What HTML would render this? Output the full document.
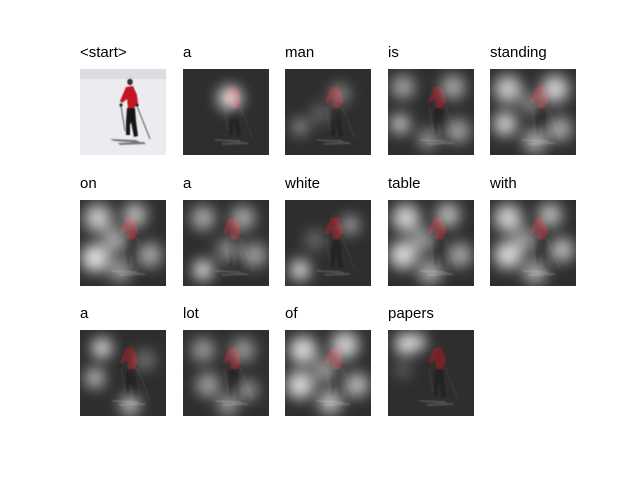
<!DOCTYPE html>
<html><head><meta charset="utf-8"><style>
body{margin:0;background:#fff;}
svg{display:block;font-family:"Liberation Sans","DejaVu Sans",sans-serif;}
</style></head><body>
<svg id="fig" width="640" height="480" viewBox="0 0 640 480" xmlns="http://www.w3.org/2000/svg">
<defs>
<filter id="blur" filterUnits="userSpaceOnUse" x="-30" y="-30" width="146" height="146"><feGaussianBlur stdDeviation="7"/></filter>
<filter id="sblur" filterUnits="userSpaceOnUse" x="-5" y="-5" width="96" height="96"><feGaussianBlur stdDeviation="0.5"/></filter>
<filter id="sharpblur" filterUnits="userSpaceOnUse" x="-30" y="-30" width="146" height="146"><feGaussianBlur stdDeviation="3.5"/></filter>
<g id="skier" filter="url(#sblur)">
<line x1="41" y1="37" x2="45" y2="62" stroke="#555" stroke-width="1"/>
<line x1="57" y1="37" x2="70" y2="70" stroke="#555" stroke-width="1"/>
<ellipse cx="50" cy="13" rx="2.8" ry="3.2" fill="#333"/>
<path d="M46 18 L53 17 L57 26 L58 34 L54 39 L48 39 L47 30 L42 34 L40 32 Z" fill="#c41820"/>
<circle cx="41" cy="36" r="1.6" fill="#222"/>
<circle cx="57" cy="36" r="1.6" fill="#222"/>
<path d="M47 39 L55 39 L56 52 L58 67 L54 68 L51 53 L50 56 L50 66 L46 66 L46 53 Z" fill="#151515"/>
<path d="M30 70 L56 71 L62 74 L34 72 Z" fill="#777"/>
<path d="M38 74 L64 73 L66 75 L40 76 Z" fill="#777"/>
</g>
</defs>
<g id="panels"></g>
</svg>
<script>
const words=["<start>","a","man","is","standing","on","a","white","table","with","a","lot","of","papers"];
// attention blobs per word: [x, y, radius, opacity] in 0-86 image coords
const blobs=[
 [],
 [[47,29,12,1],[48,30,8,1]],
 [[55,25,10,0.5],[15,58,8,0.6],[35,45,10,0.3]],
 [[15,18,12,0.65],[12,55,10,0.85],[65,18,12,0.7],[70,62,12,0.65],[40,70,10,0.6]],
 [[18,20,14,0.85],[15,55,12,0.9],[65,20,14,0.9],[70,60,12,0.7],[45,72,12,0.7],[40,35,10,0.5]],
 [[18,18,14,0.85],[15,58,14,1],[55,15,12,0.8],[70,55,12,0.7],[40,70,12,0.6],[35,40,12,0.7]],
 [[20,18,12,0.7],[20,70,10,1],[60,18,12,0.7],[72,55,12,0.65],[45,50,12,0.5]],
 [[15,70,10,1],[65,25,9,0.7],[30,40,10,0.35]],
 [[18,18,14,0.9],[15,55,14,0.95],[60,15,12,0.8],[72,55,12,0.7],[42,72,12,0.7],[35,40,12,0.6]],
 [[18,18,14,0.9],[18,55,14,0.95],[60,15,12,0.8],[72,50,12,0.8],[45,72,12,0.7],[35,40,12,0.6]],
 [[22,18,10,1],[15,48,10,0.8],[50,75,10,0.8],[65,30,10,0.4]],
 [[20,20,12,0.6],[25,55,12,0.65],[60,20,12,0.6],[65,60,10,0.6],[45,75,10,0.65]],
 [[18,20,14,0.95],[15,55,14,0.95],[60,15,14,0.9],[72,55,12,0.8],[45,72,12,0.8],[40,40,12,0.6]],
 [[18,14,11,1],[30,12,8,1],[15,40,8,0.3]]
];
const colX=[80,183,285,388,490], rowY=[69,200,330], S=86;
const NS="http://www.w3.org/2000/svg";
const root=document.getElementById('panels');
function mk(t,a){const e=document.createElementNS(NS,t);for(const k in a)e.setAttribute(k,a[k]);return e;}
words.forEach((w,i)=>{
 const x=colX[i%5], y=rowY[Math.floor(i/5)];
 const g=mk('g',{transform:`translate(${x},${y})`});
 
 
 const t=mk('text',{x:0,y:-12,'font-size':15,fill:'#000'});
 t.textContent=w;
 
 
 g.appendChild(t);
 const clip=mk('clipPath',{id:'c'+i});clip.appendChild(mk('rect',{width:S,height:S}));g.appendChild(clip);
 const img=mk('g',{'clip-path':`url(#c${i})`});
 
 
 if(i===0){
  img.appendChild(mk('rect',{width:S,height:S,fill:'#ececf0'}));
  img.appendChild(mk('rect',{width:S,height:10,fill:'#dcdce2'}));
  img.appendChild(mk('use',{href:'#skier'}));
 }else{
  img.appendChild(mk('rect',{width:S,height:S,fill:'#2e2e2e'}));
  img.appendChild(mk('use',{href:'#skier',opacity:0.45}));
  const bg=mk('g',{filter:'url(#blur)',opacity:0.85});
  blobs[i].forEach(b=>bg.appendChild(mk('circle',{cx:b[0],cy:b[1],r:b[2],fill:'#fff','fill-opacity':b[3]})));
  img.appendChild(bg);
 }
 g.appendChild(img);
 root.appendChild(g);
});
</script>
</body></html>
